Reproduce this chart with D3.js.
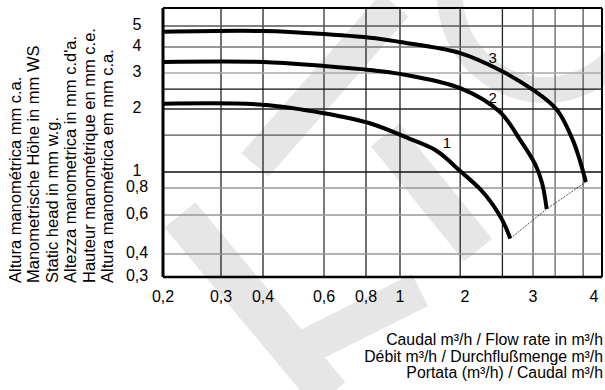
<!DOCTYPE html>
<html>
<head>
<meta charset="utf-8">
<script src="https://cdn.jsdelivr.net/npm/d3@7"></script>
<style>
  body { margin: 0; background: #fff; }
  svg text { font-family: "Liberation Sans", Arial, Helvetica, sans-serif; fill: #000; }
</style>
</head>
<body>
<div id="chart"></div>
<script>
// pump curves: flow in m3/h, head in mm
const curveNames = ["1", "2", "3"];
const flow1 = [0.2, 0.4, 0.6, 0.82, 1.11, 1.48, 1.9, 2.19, 2.36, 2.51, 2.62];
const head1 = [2.12, 2.1, 1.91, 1.71, 1.44, 1.26, 1.01, 0.79, 0.67, 0.56, 0.47];
const flow2 = [0.2, 0.4, 0.6, 0.82, 1, 1.9, 2.46, 2.78, 3.03, 3.13, 3.2];
const head2 = [3.39, 3.39, 3.24, 3.1, 2.97, 2.53, 1.94, 1.42, 1.09, 0.86, 0.64];
const flow3 = [0.2, 0.4, 0.6, 0.88, 1, 1.9, 2.46, 3.0, 3.36, 3.62, 3.74, 3.85];
const head3 = [4.7, 4.74, 4.59, 4.36, 4.22, 3.74, 3.1, 2.48, 1.98, 1.42, 1.14, 0.87];
const labelFlow = [1.65, 2.36, 2.36];
const labelHead = [1.375, 2.26, 3.54];

const xTicks = [0.2, 0.3, 0.4, 0.6, 0.8, 1, 2, 3, 4];
const yTicks = [0.3, 0.4, 0.6, 0.8, 1, 2, 3, 4, 5];
const xGrid = [0.3, 0.4, 0.6, 0.8, 1, 1.9, 2.5, 3, 3.33, 3.8];
const yGrid = [0.4, 0.6, 0.8, 1, 1.5, 2, 2.5, 3, 4, 5];

const yTitle = [
  "Altura manométrica mm c.a.",
  "Manometrische Höhe in mm WS",
  "Static head in mm w.g.",
  "Altezza manometrica in mm c.d'a.",
  "Hauteur manométrique en mm c.e.",
  "Altura manométrica em mm c.a."
];
const xTitle = [
  "Caudal m³/h / Flow rate in m³/h",
  "Débit m³/h / Durchflußmenge m³/h",
  "Portata (m³/h) / Caudal m³/h"
];

// the printed log axes are not evenly spaced, so the scales are piecewise
const xKnots = [0.2, 0.3, 0.4, 0.6, 0.8, 1, 2, 3, 4, 4.3];
const xKnotPos = [163, 221, 263, 324, 366, 400, 465, 533, 594, 602];
const yKnots = [0.3, 0.4, 0.6, 0.8, 1, 2, 3, 4, 5, 6];
const yKnotPos = [277, 254, 215, 188, 172, 109, 73, 47, 26, 8];

// one tone per grid line, same order as xGrid / yGrid
const xGridTone = ["#222", "#222", "#333", "#222", "#222", "#222", "#222", "#555", "#666", "#555"];
const yGridTone = ["#999", "#999", "#999", "#111", "#555", "#222", "#111", "#aaa", "#777", "#555"];

const chartW = 605, chartH = 390;

const svg = d3.select("#chart").append("svg")
  .attr("width", chartW)
  .attr("height", chartH);

const x = d3.scaleLog().domain(xKnots).range(xKnotPos);
const y = d3.scaleLog().domain(yKnots).range(yKnotPos);

const xMin = xKnots[0], xMax = xKnots[xKnots.length - 1];
const yMin = yKnots[0], yMax = yKnots[yKnots.length - 1];

// faint watermark behind everything
const wm = svg.append("g").attr("fill", "#e6e6e6");
const band = (ax, ay, bx, by, w) => {
  const len = Math.hypot(bx - ax, by - ay);
  const nx = -(by - ay) / len * w / 2, ny = (bx - ax) / len * w / 2;
  return `M${ax + nx},${ay + ny}L${bx + nx},${by + ny}L${bx - nx},${by - ny}L${ax - nx},${ay - ny}Z`;
};
wm.append("path").attr("d", band(255, 165, 395, 5, 36));
wm.append("path").attr("d", band(385, 135, 478, 250, 36));
wm.append("path").attr("d", band(180, 215, 330, 395, 40));
wm.append("path").attr("d", band(300, 350, 420, 290, 36));
wm.append("path")
  .attr("transform", "translate(545,-5)")
  .attr("d", d3.arc().innerRadius(82).outerRadius(108)
    .startAngle(Math.PI * 0.6).endAngle(Math.PI * 1.5)());

const straight = d3.line()
  .x(d => x(d[0]))
  .y(d => y(d[1]));

// grid, each line a two-point path in data units
const gridSegs = xGrid.map((v, i) => ({ pts: [[v, yMin], [v, yMax]], tone: xGridTone[i] || "#444" }))
  .concat(yGrid.map((v, i) => ({ pts: [[xMin, v], [xMax, v]], tone: yGridTone[i] || "#444" })));

svg.append("g").selectAll("path").data(gridSegs).join("path")
  .attr("d", d => straight(d.pts))
  .attr("fill", "none")
  .attr("stroke", d => d.tone)
  .attr("stroke-width", 1.3);

// frame
const box = svg.append("g").attr("fill", "none").attr("stroke", "#000");
box.append("path").attr("d", straight([[xMin, yMax], [xMin, yMin]])).attr("stroke-width", 3);
box.append("path").attr("d", straight([[xMin, yMin], [xMax, yMin]])).attr("stroke-width", 2.5);
box.append("path").attr("d", straight([[xMin, yMax], [xMax, yMax]])).attr("stroke-width", 2.2);
box.append("path").attr("d", straight([[xMax, yMax], [xMax, yMin]])).attr("stroke-width", 2);

// curves
const curves = [d3.zip(flow1, head1), d3.zip(flow2, head2), d3.zip(flow3, head3)];
const curveLine = d3.line()
  .x(d => x(d[0]))
  .y(d => y(d[1]))
  .curve(d3.curveCatmullRom.alpha(0.5));

svg.append("g").selectAll("path").data(curves).join("path")
  .attr("d", d => curveLine(d))
  .attr("fill", "none")
  .attr("stroke", "#000")
  .attr("stroke-width", 4);

// thin line joining the curve ends
svg.append("path")
  .attr("d", straight(curves.map(c => c[c.length - 1])))
  .attr("fill", "none")
  .attr("stroke", "#222")
  .attr("stroke-width", 0.8)
  .attr("stroke-dasharray", "2,1.2");

svg.append("g").selectAll("text").data(curveNames).join("text")
  .attr("x", (d, i) => x(labelFlow[i]))
  .attr("y", (d, i) => y(labelHead[i]))
  .attr("dy", "0.35em")
  .attr("text-anchor", "middle")
  .attr("font-size", 15)
  .text(d => d);

// tick labels
const fmt = v => String(v).replace(".", ",");
svg.append("g").selectAll("text").data(xTicks).join("text")
  .attr("x", d => x(d))
  .attr("y", 302)
  .attr("text-anchor", "middle")
  .attr("font-size", 16)
  .text(fmt);

svg.append("g").selectAll("text").data(yTicks).join("text")
  .attr("x", 137)
  .attr("y", d => y(d) - 2)
  .attr("dy", "0.35em")
  .attr("text-anchor", "middle")
  .attr("font-size", 16)
  .text(fmt);

// axis titles
svg.append("g").selectAll("text").data(yTitle).join("text")
  .attr("transform", (d, i) => `translate(${21 + i * 18.4},283) rotate(-90)`)
  .attr("font-size", 16.5)
  .text(d => d);

svg.append("g").selectAll("text").data(xTitle).join("text")
  .attr("x", 603)
  .attr("y", (d, i) => 345 + i * 16.5)
  .attr("text-anchor", "end")
  .attr("font-size", 15.8)
  .text(d => d);
</script>
</body>
</html>
